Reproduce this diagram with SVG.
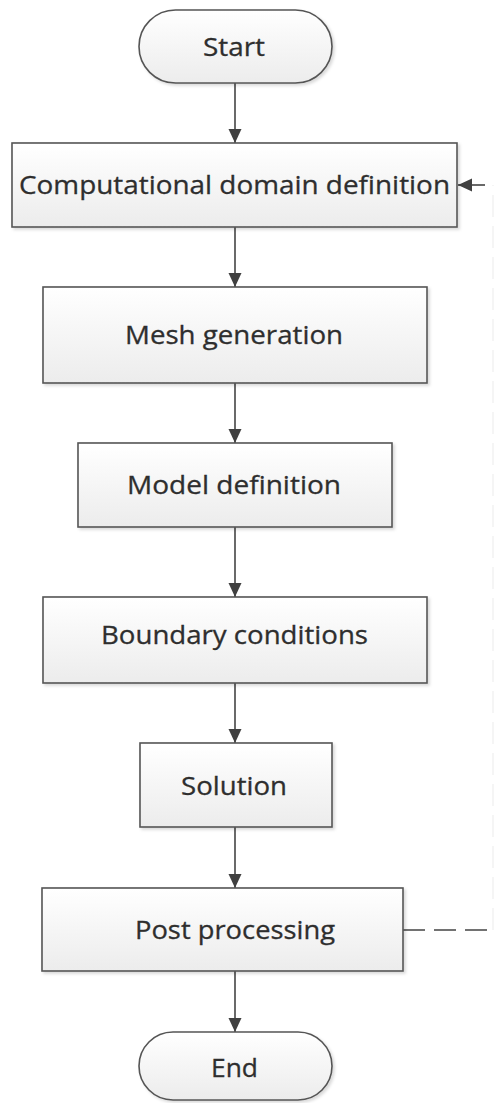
<svg xmlns="http://www.w3.org/2000/svg" width="498" height="1103" viewBox="0 0 498 1103">
<defs>
<linearGradient id="g" x1="0" y1="0" x2="0" y2="1">
<stop offset="0" stop-color="#ffffff"/>
<stop offset="1" stop-color="#ececec"/>
</linearGradient>
<filter id="sh" x="-5%" y="-5%" width="115%" height="120%">
<feDropShadow dx="2" dy="2" stdDeviation="1.5" flood-color="#000" flood-opacity="0.15"/>
</filter>
<marker id="arr" viewBox="0 0 14 14" refX="14" refY="7" markerWidth="14" markerHeight="14" markerUnits="userSpaceOnUse" orient="auto">
<path d="M0,0.5 L14,7 L0,13.5 Z" fill="#404040"/>
</marker>
</defs>
<style>
.n{fill:url(#g);stroke:#555;stroke-width:1.6;filter:url(#sh)}
.t{font-family:"Open Sans","Liberation Sans",sans-serif;font-size:26px;fill:#2e2e2e;text-anchor:middle;stroke:#2e2e2e;stroke-width:0.3}
.c{stroke:#444;stroke-width:1.6;fill:none}
</style>
<rect width="498" height="1103" fill="#fff"/>
<g id="connectors">
<line class="c" x1="235" y1="83" x2="235" y2="143" marker-end="url(#arr)"/>
<line class="c" x1="235" y1="227" x2="235" y2="287" marker-end="url(#arr)"/>
<line class="c" x1="235" y1="383" x2="235" y2="443" marker-end="url(#arr)"/>
<line class="c" x1="235" y1="527" x2="235" y2="597" marker-end="url(#arr)"/>
<line class="c" x1="235" y1="683" x2="235" y2="743" marker-end="url(#arr)"/>
<line class="c" x1="235" y1="827" x2="235" y2="888" marker-end="url(#arr)"/>
<line class="c" x1="235" y1="971" x2="235" y2="1032" marker-end="url(#arr)"/>
<line class="c" x1="403" y1="930" x2="490" y2="930" stroke-dasharray="22,9"/>
<line x1="493" y1="930" x2="493" y2="185" stroke="#eeeeee" stroke-width="1.2" stroke-dasharray="22,9"/>
<line class="c" x1="485" y1="185" x2="458" y2="185" marker-end="url(#arr)"/>
</g>
<g id="start">
<rect class="n" x="139" y="10" width="193" height="73" rx="36.5"/>
<text class="t" x="234" y="56" textLength="62" lengthAdjust="spacingAndGlyphs">Start</text>
</g>
<g id="domain">
<rect class="n" x="12" y="143" width="445" height="84"/>
<text class="t" x="234.5" y="194" textLength="431" lengthAdjust="spacingAndGlyphs">Computational domain definition</text>
</g>
<g id="mesh">
<rect class="n" x="43" y="287" width="384" height="96"/>
<text class="t" x="234" y="344" textLength="218" lengthAdjust="spacingAndGlyphs">Mesh generation</text>
</g>
<g id="model">
<rect class="n" x="78" y="443" width="314" height="84"/>
<text class="t" x="234" y="494" textLength="214" lengthAdjust="spacingAndGlyphs">Model definition</text>
</g>
<g id="boundary">
<rect class="n" x="43" y="597" width="384" height="86"/>
<text class="t" x="234.5" y="644" textLength="267" lengthAdjust="spacingAndGlyphs">Boundary conditions</text>
</g>
<g id="solution">
<rect class="n" x="140" y="743" width="192" height="84"/>
<text class="t" x="234" y="795" textLength="106" lengthAdjust="spacingAndGlyphs">Solution</text>
</g>
<g id="post">
<rect class="n" x="42" y="888" width="361" height="83"/>
<text class="t" x="235" y="939" textLength="200" lengthAdjust="spacingAndGlyphs">Post processing</text>
</g>
<g id="end">
<rect class="n" x="139" y="1032" width="193" height="68" rx="34"/>
<text class="t" x="234.5" y="1077" textLength="47" lengthAdjust="spacingAndGlyphs">End</text>
</g>
</svg>
